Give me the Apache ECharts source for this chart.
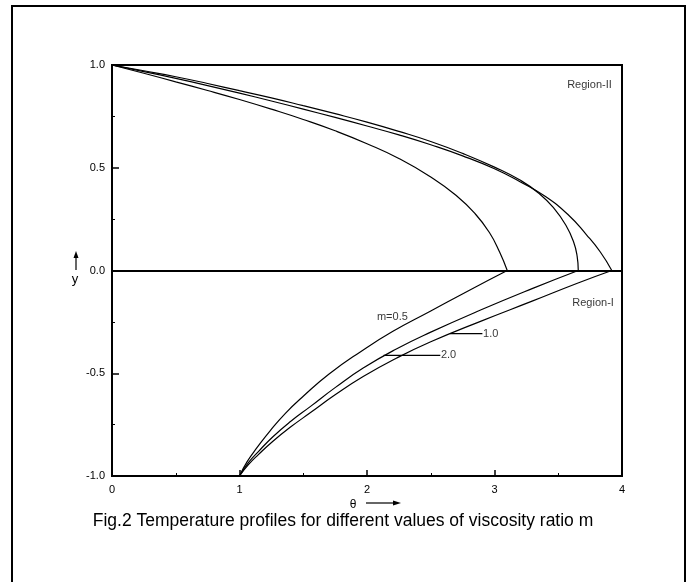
<!DOCTYPE html>
<html>
<head>
<meta charset="utf-8">
<script src="https://cdn.jsdelivr.net/npm/echarts@6/dist/echarts.min.js"></script>
<style>
    html, body { margin: 0; padding: 0; background: #fff; }
    #chart { width: 693px; height: 582px; }
</style>
</head>
<body>
<div id="chart"></div>
<script>
// region II (upper layer), theta vs y
const upperM05 = [[0, 1], [0.25, 0.96], [0.5, 0.918], [0.75, 0.876], [1.0, 0.832], [1.25, 0.785], [1.5, 0.735], [1.75, 0.68], [2.0, 0.617], [2.25, 0.545], [2.5, 0.455], [2.7, 0.365], [2.85, 0.275], [2.96, 0.185], [3.04, 0.09], [3.1, 0]];
const upperMid = [[0, 1], [0.25, 0.972], [0.5, 0.943], [0.75, 0.91], [1.0, 0.875], [1.25, 0.84], [1.5, 0.802], [1.75, 0.763], [2.0, 0.722], [2.25, 0.677], [2.5, 0.628], [2.75, 0.57], [3.0, 0.503], [3.2, 0.44], [3.35, 0.375], [3.47, 0.3], [3.56, 0.22], [3.62, 0.14], [3.648, 0.07], [3.657, 0]];
const upperOut = [[0, 1], [0.25, 0.968], [0.5, 0.935], [0.75, 0.9], [1.0, 0.863], [1.25, 0.825], [1.5, 0.785], [1.75, 0.745], [2.0, 0.703], [2.25, 0.66], [2.5, 0.612], [2.75, 0.558], [3.0, 0.495], [3.2, 0.432], [3.4, 0.36], [3.58, 0.27], [3.72, 0.175], [3.83, 0.09], [3.92, 0]];
// region I (lower layer)
const lowerM05 = [[1, -1], [1.06, -0.93], [1.14, -0.86], [1.24, -0.78], [1.36, -0.695], [1.5, -0.612], [1.7, -0.505], [1.95, -0.395], [2.2, -0.297], [2.5, -0.197], [2.8, -0.097], [3.1, 0]];
const lowerMid = [[1, -1], [1.07, -0.935], [1.15, -0.88], [1.26, -0.81], [1.4, -0.735], [1.56, -0.66], [1.75, -0.57], [1.97, -0.475], [2.23, -0.382], [2.5, -0.3], [2.9, -0.19], [3.3, -0.087], [3.657, 0]];
const lowerOut = [[1, -1], [1.07, -0.945], [1.15, -0.895], [1.26, -0.832], [1.4, -0.762], [1.56, -0.69], [1.75, -0.605], [1.97, -0.516], [2.23, -0.427], [2.5, -0.347], [2.9, -0.245], [3.3, -0.148], [3.65, -0.062], [3.92, 0]];

// labels inside the plot: [theta, y, text]
const notes = [[3.57, 0.902, 'Region-II'], [3.61, -0.157, 'Region-I'], [2.078, -0.225, 'm=0.5'], [2.91, -0.307, '1.0'], [2.58, -0.413, '2.0']];
// leader lines for the m labels
const leaders = [[[2.65, -0.307], [2.905, -0.307]], [[2.13, -0.413], [2.575, -0.413]]];

const xTicks = [0, 1, 2, 3, 4];
const yTicks = [-1.0, -0.5, 0.0, 0.5, 1.0];

const chart = echarts.init(document.getElementById('chart'));
const font = 'Arial, "Liberation Sans", sans-serif';

function curve(data) {
    return {
        type: 'line',
        data: data,
        smooth: true,
        showSymbol: false,
        silent: true,
        lineStyle: { color: '#000', width: 1.2 }
    };
}

const series = [upperM05, upperMid, upperOut, lowerM05, lowerMid, lowerOut].map(curve);

// y = 0 interface line
series[0].markLine = {
    silent: true,
    symbol: 'none',
    label: { show: false },
    lineStyle: { color: '#000', width: 2, type: 'solid' },
    data: [{ yAxis: 0 }]
};

leaders.forEach(function (l) {
    series.push({
        type: 'line',
        data: l,
        showSymbol: false,
        silent: true,
        lineStyle: { color: '#000', width: 1.2 }
    });
});

series.push({
    type: 'scatter',
    symbolSize: 0,
    silent: true,
    data: notes.map(function (n) { return { value: [n[0], n[1]], name: n[2] }; }),
    label: {
        show: true,
        position: 'right',
        distance: 0,
        formatter: '{b}',
        color: '#000',
        fontSize: 11,
        fontFamily: font
    }
});

const option = {
    animation: false,
    grid: {
        left: 112, right: 71, top: 65, bottom: 106,
        show: true, borderColor: '#000', borderWidth: 2
    },
    xAxis: {
        type: 'value', min: 0, max: 4, interval: 1,
        axisLine: { show: false, onZero: false },
        axisTick: { show: true, inside: true, length: 6, lineStyle: { color: '#000', width: 1.5 } },
        minorTick: { show: true, splitNumber: 2, length: 3, lineStyle: { color: '#000' } },
        splitLine: { show: false },
        axisLabel: {
            margin: 8, color: '#000', fontSize: 11, fontFamily: font,
            formatter: function (v) { return xTicks.indexOf(v) >= 0 ? String(v) : ''; }
        }
    },
    yAxis: {
        type: 'value', min: -1, max: 1, interval: 0.5,
        axisLine: { show: false, onZero: false },
        axisTick: { show: true, inside: true, length: 7, lineStyle: { color: '#000', width: 1.5 } },
        minorTick: { show: true, splitNumber: 2, length: 3, lineStyle: { color: '#000' } },
        splitLine: { show: false },
        axisLabel: {
            margin: 7, color: '#000', fontSize: 11, fontFamily: font,
            formatter: function (v) { return yTicks.indexOf(v) >= 0 ? v.toFixed(1) : ''; }
        }
    },
    series: series,
    graphic: [
        // outer frame
        { type: 'rect', shape: { x: 12, y: 6, width: 673, height: 600 }, style: { fill: null, stroke: '#000', lineWidth: 2 } },
        // y arrow
        { type: 'line', shape: { x1: 76, y1: 270, x2: 76, y2: 256 }, style: { stroke: '#000', lineWidth: 1.2 } },
        { type: 'polygon', shape: { points: [[73.5, 258], [78.5, 258], [76, 251]] }, style: { fill: '#000' } },
        { type: 'text', x: 75, y: 279, style: { text: 'y', font: '13px ' + font, fill: '#000', textAlign: 'center', textVerticalAlign: 'middle' } },
        // theta arrow
        { type: 'text', x: 353, y: 505, style: { text: 'θ', font: '12px ' + font, fill: '#000', textAlign: 'center', textVerticalAlign: 'middle' } },
        { type: 'line', shape: { x1: 366, y1: 503, x2: 395, y2: 503 }, style: { stroke: '#000', lineWidth: 1.2 } },
        { type: 'polygon', shape: { points: [[393, 500.5], [393, 505.5], [401, 503]] }, style: { fill: '#000' } },
        // caption
        { type: 'text', x: 343, y: 521, style: { text: 'Fig.2 Temperature profiles for different values of viscosity ratio m', font: '17.5px ' + font, fill: '#000', textAlign: 'center', textVerticalAlign: 'middle' } }
    ]
};

chart.setOption(option);

window.addEventListener('resize', function () {
    chart.resize();
});
</script>
</body>
</html>
